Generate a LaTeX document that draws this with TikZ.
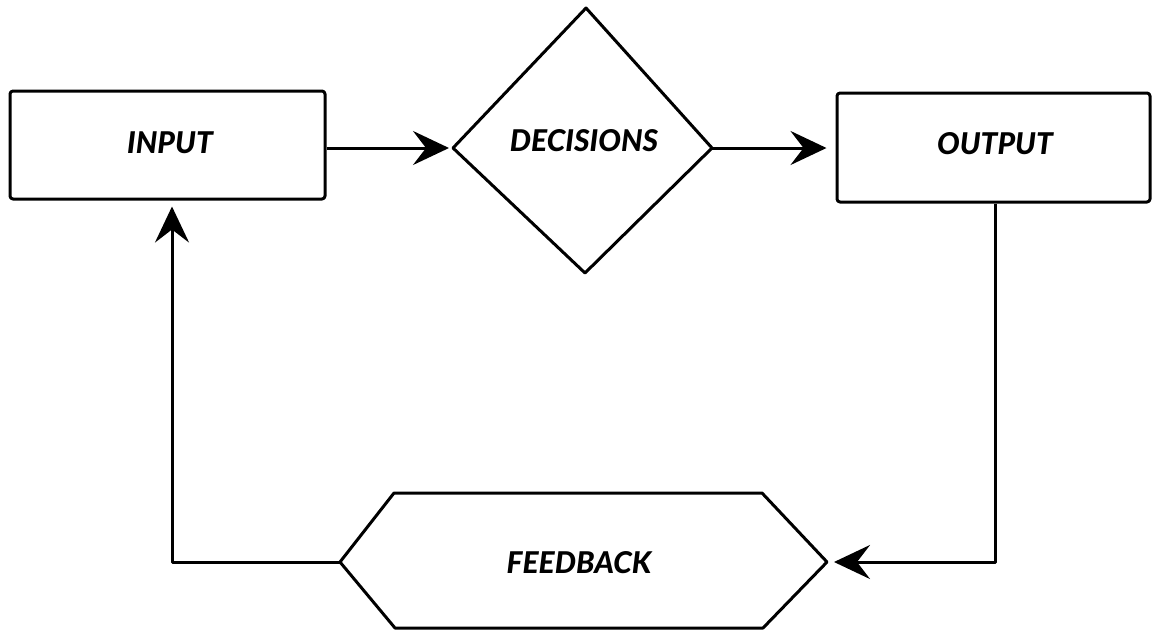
\documentclass[tikz,border=0pt]{standalone}
\usepackage{fontspec}
\setmainfont{Lato}
\newfontfamily\heavyfont{Lato Black Italic}
\usetikzlibrary{arrows.meta}
\begin{document}
\begin{tikzpicture}[x=1pt,y=-1pt,
  line width=3pt, line join=round,
  boxnode/.style={draw, rounded corners=3pt, inner sep=0pt},
  lbl/.style={font=\fontsize{30}{30}\heavyfont, inner sep=0pt},
  arr/.style={-{Stealth[length=36pt,width=34pt,inset=13pt]}},
]
\useasboundingbox (0,0) rectangle (1155,632);

% boxes
\node[boxnode, minimum width=315pt, minimum height=108pt] (input) at (167.5,145) {};
\node[lbl] (inputlbl) at (170,143) {INPUT};
\node[boxnode, minimum width=313pt, minimum height=109pt] (output) at (993.5,147.5) {};
\node[lbl] (outputlbl) at (995,144) {OUTPUT};

% decision diamond
\coordinate (dt) at (586,8);
\coordinate (dr) at (712,148);
\coordinate (db) at (585,273);
\coordinate (dl) at (453,148);
\draw (dt) -- (dr) -- (db) -- (dl) -- cycle;
\node[lbl] (declbl) at (584,141) {DECISIONS};

% feedback hexagon
\coordinate (hl) at (340,562);
\coordinate (htl) at (394,493);
\coordinate (htr) at (762,493);
\coordinate (hr) at (827,562);
\coordinate (hbr) at (763,628);
\coordinate (hbl) at (395,628);
\draw (hl) -- (htl) -- (htr) -- (hr) -- (hbr) -- (hbl) -- cycle;
\node[lbl] (fblbl) at (579,563) {FEEDBACK};

% connectors
\draw[arr, shorten >=4pt] (input.east |- dl) -- (dl);
\draw[arr] (dr) -- ([xshift=-9pt]output.west |- dr);
\draw[arr, shorten >=7pt] ([xshift=1.5pt]output.south) |- (hr);
\draw[arr, shorten >=6pt] (hl) -| ([xshift=4.5pt]input.south);
\end{tikzpicture}
\end{document}
